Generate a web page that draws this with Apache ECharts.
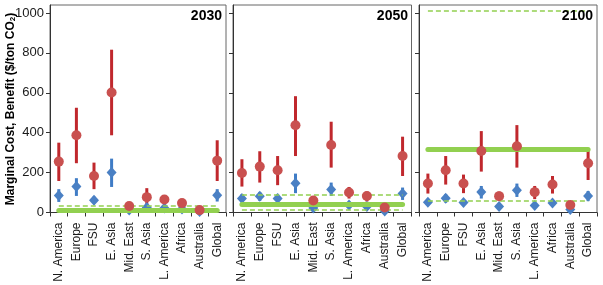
<!DOCTYPE html>
<html>
<head>
<meta charset="utf-8">
<script src="https://cdn.jsdelivr.net/npm/echarts@6/dist/echarts.min.js"></script>
<style>
  html, body { margin: 0; padding: 0; background: #fff; }
  #chart { width: 603px; height: 285px; }
</style>
</head>
<body>
<div id="chart"></div>
<script>
  // regions shared by all three panels
  var categories = ['N. America', 'Europe', 'FSU', 'E. Asia', 'Mid. East', 'S. Asia', 'L. America', 'Africa', 'Australia', 'Global']
  var years = ['2030', '2050', '2100']
  var yTicks = [0, 200, 400, 600, 800, 1000]

  // benefit (red circles) with range
  var benefit2030 = [255, 387, 183, 601, 33, 77, 65, 47, 12, 260]
  var benefitLow2030 = [158, 247, 117, 387, 33, 42, 55, 40, 12, 158]
  var benefitHigh2030 = [350, 525, 250, 816, 33, 122, 80, 52, 12, 362]
  var benefit2050 = [198, 230, 212, 437, 60, 338, 100, 83, 25, 283]
  var benefitLow2050 = [130, 150, 137, 283, 55, 225, 70, 55, 20, 183]
  var benefitHigh2050 = [267, 307, 283, 583, 65, 455, 128, 105, 30, 380]
  var benefit2100 = [145, 212, 145, 308, 82, 332, 102, 140, 38, 247]
  var benefitLow2100 = [95, 140, 97, 205, 62, 225, 67, 95, 30, 163]
  var benefitHigh2100 = [195, 283, 190, 408, 105, 438, 133, 183, 45, 308]

  // cost (blue diamonds) with range
  var cost2030 = [85, 130, 62, 200, 12, 25, 22, 17, 5, 87]
  var costLow2030 = [53, 83, 47, 128, 5, 15, 12, 10, 2, 55]
  var costHigh2030 = [117, 172, 80, 270, 20, 35, 30, 25, 8, 117]
  var cost2050 = [70, 82, 70, 147, 23, 115, 38, 30, 8, 95]
  var costLow2050 = [50, 58, 50, 97, 15, 83, 30, 22, 3, 63]
  var costHigh2050 = [92, 103, 93, 195, 30, 150, 48, 38, 12, 125]
  var cost2100 = [52, 72, 50, 103, 30, 112, 35, 48, 15, 83]
  var costLow2100 = [40, 50, 40, 70, 22, 78, 28, 38, 5, 57]
  var costHigh2100 = [62, 92, 60, 133, 38, 145, 45, 58, 25, 108]

  // green reference lines
  var globalSolid = [10, 40, 318]
  var globalDashed2030 = [33]
  var globalDashed2050 = [88, 13]
  var globalDashed2100 = [1010, 60]

  var panels = [
    { b: benefit2030, bl: benefitLow2030, bh: benefitHigh2030, c: cost2030, cl: costLow2030, ch: costHigh2030, solid: globalSolid[0], dashed: globalDashed2030 },
    { b: benefit2050, bl: benefitLow2050, bh: benefitHigh2050, c: cost2050, cl: costLow2050, ch: costHigh2050, solid: globalSolid[1], dashed: globalDashed2050 },
    { b: benefit2100, bl: benefitLow2100, bh: benefitHigh2100, c: cost2100, cl: costLow2100, ch: costHigh2100, solid: globalSolid[2], dashed: globalDashed2100 }
  ]

  var FONT = 'Liberation Sans, Arial, sans-serif'
  var RED = '#c9504f'
  var RED_BAR = '#c0282d'
  var BLUE = '#4a80c4'
  var BLUE_BAR = '#3f7cc6'
  var GREEN = '#92d050'

  var grids = [
    { left: 50, right: 377, top: 5, bottom: 72.5 },
    { left: 233, right: 191.5, top: 5, bottom: 72.5 },
    { left: 419, right: 6, top: 5, bottom: 72.5 }
  ]

  function errorBars(k, lo, hi, color) {
    return {
      type: 'custom',
      xAxisIndex: k,
      yAxisIndex: k,
      z: 3,
      silent: true,
      data: categories.map(function (c, i) { return [i, lo[i], hi[i]] }),
      encode: { x: 0, y: [1, 2] },
      renderItem: function (params, api) {
        var a = api.coord([api.value(0), api.value(1)])
        var b = api.coord([api.value(0), api.value(2)])
        return {
          type: 'line',
          shape: { x1: a[0], y1: a[1], x2: b[0], y2: b[1] },
          style: { stroke: color, lineWidth: 3 }
        }
      }
    }
  }

  function refLine(value) {
    return [{ coord: [categories[0], value] }, { coord: [categories[categories.length - 1], value] }]
  }

  var xAxis = [], yAxis = [], series = []
  panels.forEach(function (p, k) {
    xAxis.push({
      type: 'category',
      gridIndex: k,
      data: categories,
      axisLine: { lineStyle: { color: '#333' } },
      axisTick: { show: true, length: 4, interval: 0, lineStyle: { color: '#333' } },
      axisLabel: { interval: 0, rotate: 90, margin: 10, fontSize: 12, color: '#1a1a1a', fontFamily: FONT }
    })
    yAxis.push({
      type: 'value',
      gridIndex: k,
      min: 0,
      max: 1040,
      interval: 200,
      splitLine: { show: false },
      axisLine: { show: true, lineStyle: { color: '#333' } },
      axisTick: { show: true, length: 4, customValues: yTicks, lineStyle: { color: '#333' } },
      axisLabel: {
        show: k === 0, customValues: yTicks, fontSize: 13, color: '#1a1a1a', fontFamily: FONT, margin: 6,
        formatter: function (v) { return String(v) }
      }
    })

    // green lines behind the markers
    series.push({
      type: 'line',
      xAxisIndex: k,
      yAxisIndex: k,
      data: [],
      z: 1,
      markLine: {
        silent: true,
        symbol: 'none',
        label: { show: false },
        lineStyle: { color: GREEN, width: 5, type: 'solid', cap: 'round' },
        data: [refLine(p.solid)]
      }
    })
    series.push({
      type: 'line',
      xAxisIndex: k,
      yAxisIndex: k,
      data: [],
      z: 1,
      markLine: {
        silent: true,
        symbol: 'none',
        label: { show: false },
        lineStyle: { color: GREEN, width: 1.5, type: [5, 3] },
        data: p.dashed.map(function (v) { return refLine(v) })
      }
    })

    series.push(errorBars(k, p.cl, p.ch, BLUE_BAR))
    series.push({
      type: 'scatter',
      xAxisIndex: k,
      yAxisIndex: k,
      z: 4,
      symbol: 'diamond',
      symbolSize: [10, 11],
      itemStyle: { color: BLUE, opacity: 1 },
      data: p.c
    })
    series.push(errorBars(k, p.bl, p.bh, RED_BAR))
    series.push({
      type: 'scatter',
      xAxisIndex: k,
      yAxisIndex: k,
      z: 5,
      symbol: 'circle',
      symbolSize: 10,
      itemStyle: { color: RED, opacity: 1 },
      data: p.b
    })
  })

  var yearRight = [381, 195, 10]
  var graphic = years.map(function (y, k) {
    return {
      type: 'text',
      right: yearRight[k],
      top: 9,
      z: 10,
      style: { text: y, font: 'bold 14px ' + FONT, fill: '#000' }
    }
  })
  graphic.push({
    type: 'text',
    x: 11,
    y: 109,
    rotation: Math.PI / 2,
    style: {
      text: 'Marginal Cost, Benefit ($/ton CO{sub|2})',
      align: 'center',
      verticalAlign: 'middle',
      font: 'bold 12px ' + FONT,
      fill: '#000',
      rich: {
        sub: { fontSize: 8, fontWeight: 'bold', fontFamily: FONT, fill: '#000', verticalAlign: 'bottom', lineHeight: 8, padding: [5, 0, 0, 0] }
      }
    }
  })

  var chart = echarts.init(document.getElementById('chart'))
  chart.setOption({
    animation: false,
    grid: grids.map(function (g) {
      return Object.assign({ show: true, borderColor: '#666', borderWidth: 1, backgroundColor: '#fff' }, g)
    }),
    xAxis: xAxis,
    yAxis: yAxis,
    series: series,
    graphic: graphic
  })
</script>
</body>
</html>
